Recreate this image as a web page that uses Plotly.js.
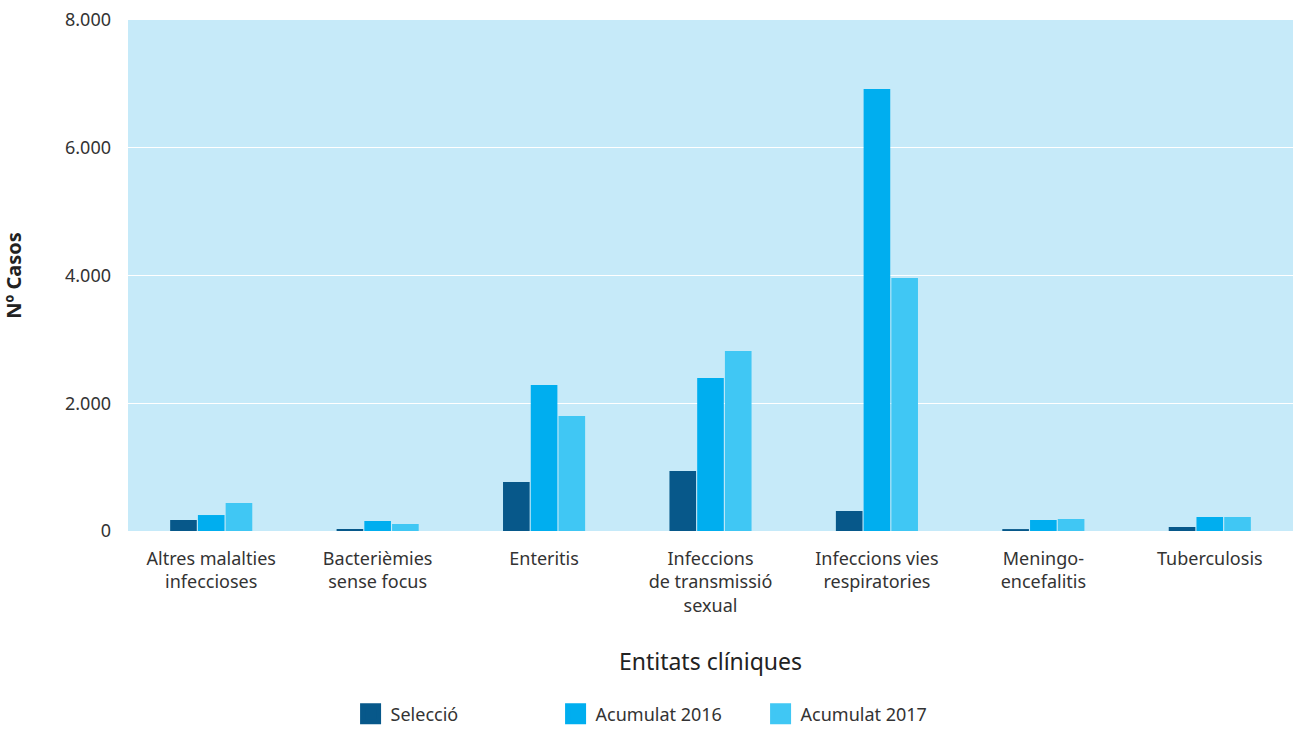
<!DOCTYPE html>
<html>
<head>
<meta charset="utf-8">
<script src="https://cdn.plot.ly/plotly-3.0.1.min.js"></script>
<style>html,body{margin:0;padding:0;background:#fff;}#chart{width:1293px;height:729px;}</style>
</head>
<body>
<div id="chart"></div>
<script>
const categories = [
  "Altres malalties<br>infeccioses",
  "Bacterièmies<br>sense focus",
  "Enteritis",
  "Infeccions<br>de transmissió<br>sexual",
  "Infeccions vies<br>respiratories",
  "Meningo-<br>encefalitis",
  "Tuberculosis"
];
const seriesNames = ['Selecció', 'Acumulat 2016', 'Acumulat 2017'];
const seleccio = [172, 31, 767, 939, 313, 30, 63];
const acumulat2016 = [250, 157, 2285, 2395, 6920, 172, 219];
const acumulat2017 = [438, 110, 1800, 2818, 3961, 188, 219];
const yTicks = [0, 2000, 4000, 6000, 8000];

const colors = ['#07588a', '#00aeef', '#40c7f4'];
const font = "Noto Sans, Open Sans, sans-serif";
const values = [seleccio, acumulat2016, acumulat2017];

const traces = [];
values.forEach((v, i) => {
  traces.push({type: 'bar', name: seriesNames[i], x: categories, y: v,
    marker: {color: colors[i]}, showlegend: false, legendgroup: 'g' + i});
});
// legend-only entries with larger square swatches
values.forEach((v, i) => {
  traces.push({type: 'scatter', mode: 'markers', name: seriesNames[i],
    x: [categories[0]], y: [null], legendgroup: 'g' + i,
    marker: {symbol: 'square', size: 16, color: colors[i], line: {color: colors[i], width: 5}},
    showlegend: true, hoverinfo: 'skip'});
});

const layout = {
  width: 1293, height: 729,
  margin: {l: 128, r: 0, t: 20, b: 198, autoexpand: false},
  paper_bgcolor: '#ffffff',
  plot_bgcolor: '#c6eaf9',
  separators: ',.',
  barmode: 'group',
  bargap: 0.5,
  bargroupgap: 0.04,
  font: {family: font, size: 18, color: '#333333'},
  xaxis: {
    automargin: false,
    showgrid: false, zeroline: false, showline: false,
    ticks: '', tickfont: {size: 18, color: '#333333'},
    ticklabelstandoff: 15,
    title: {text: 'Entitats clíniques', font: {size: 23, color: '#222222'}, standoff: 38}
  },
  yaxis: {
    automargin: false,
    range: [0, 8000], tickvals: yTicks, tickformat: ',d',
    showgrid: true, gridcolor: '#ffffff', gridwidth: 1,
    zeroline: false, showline: false, ticks: '',
    ticklabelstandoff: 16,
    tickfont: {size: 18, color: '#333333'},
    title: {text: '<b>Nº Casos</b>', font: {size: 20, color: '#222222'}, standoff: 38}
  },
  legend: {
    orientation: 'h', x: 0.455, xanchor: 'center', y: -0.322, yanchor: 'top',
    font: {size: 18, color: '#333333'}, itemwidth: 30, itemsizing: 'trace',
    entrywidth: 160, entrywidthmode: 'pixels', traceorder: 'normal'
  },
  showlegend: true
};
Plotly.newPlot('chart', traces, layout, {displayModeBar: false, staticPlot: true});
</script>
</body>
</html>
